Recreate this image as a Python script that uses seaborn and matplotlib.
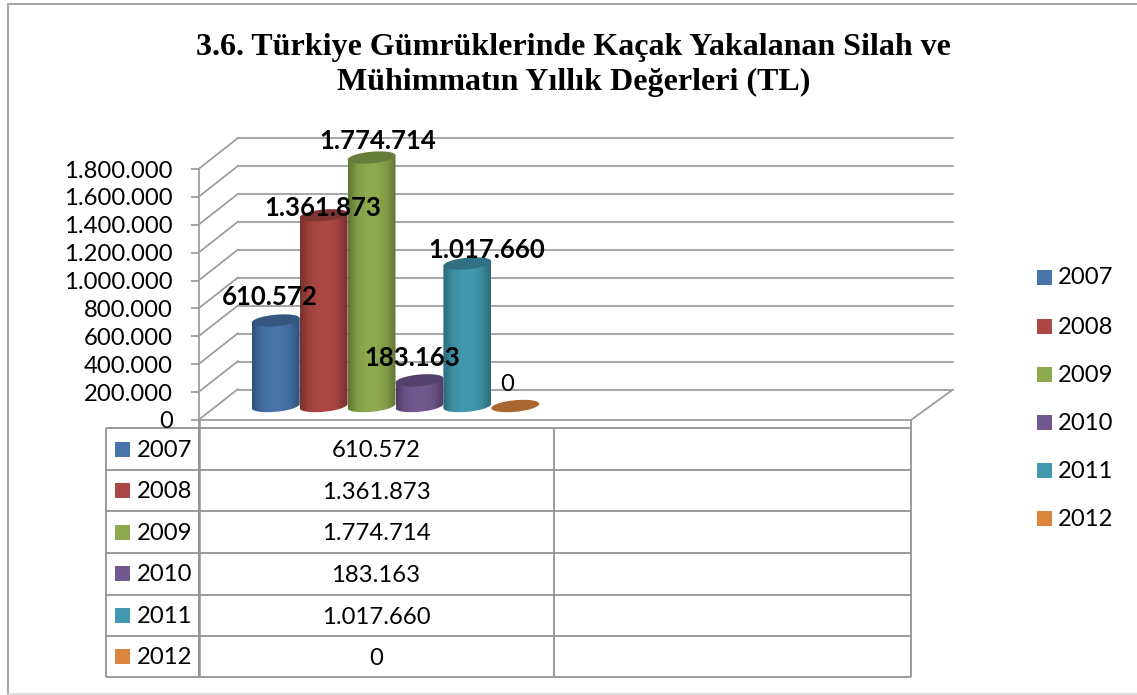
import numpy as np
import pandas as pd
import matplotlib
matplotlib.use('Agg')
import matplotlib.pyplot as plt
from matplotlib.colors import LinearSegmentedColormap, to_rgb
from matplotlib.patches import Polygon, Rectangle
from matplotlib.ticker import FuncFormatter
import seaborn as sns

# chart data
years = ['2007', '2008', '2009', '2010', '2011', '2012']
values = [610572, 1361873, 1774714, 183163, 1017660, 0]
colors = ['#4674AB', '#AB4744', '#8CA94D', '#72588F', '#4198AF', '#DB843D']
categories = ['1', '2']
y_ticks = [0, 200000, 400000, 600000, 800000, 1000000, 1200000, 1400000, 1600000, 1800000]
title = '3.6. Türkiye Gümrüklerinde Kaçak Yakalanan Silah ve\nMühimmatın Yıllık Değerleri (TL)'

# label offsets from the bar top, in pixels
label_dx = [-6, -1, 6, -7, 19, -8]
label_dy = [23.5, 7, 16.5, 22, 14, 22]

W, H = 1137, 695
GRID = '#9E9E9E'
LINE = '#939393'
FS = 17.2


def dots(v):
    return f'{int(v):,}'.replace(',', '.')


def px_axes(fig, x0, y_top, x1, y_bottom, **kw):
    # axes placed with pixel box measured from the top left corner
    return fig.add_axes([x0 / W, 1 - y_bottom / H, (x1 - x0) / W, (y_bottom - y_top) / H], **kw)


sns.set_theme(style='white')
plt.rcParams['font.family'] = ['Lato', 'DejaVu Sans']
fig = plt.figure(figsize=(W / 100, H / 100), dpi=100, facecolor='white')

# overlay in pixels for frame, floor, side wall and table lines
bg = px_axes(fig, 0, 0, W, H)
bg.set_xlim(0, W)
bg.set_ylim(H, 0)
bg.axis('off')

bg.plot([W, 8, 8], [3.5, 3.5, H], color='#A8A8A8', lw=1.5, solid_capstyle='butt')
bg.plot([8, W], [694, 694], color='#D8D8D8', lw=1.2)

# back wall gridlines
wall = px_axes(fig, 238, 138, 953, 389.5)
wall.set_ylim(0, 1800000)
wall.set_yticks(y_ticks)
wall.set_xticks([])
wall.grid(axis='y', color=GRID, lw=1.3)
for g in wall.get_ygridlines():
    g.set_clip_on(False)
wall.patch.set_alpha(0)
sns.despine(ax=wall, left=True, bottom=True, right=True, top=True)
wall.tick_params(left=False, labelleft=False)

# value axis at the front of the floor, with depth lines to the wall
front = px_axes(fig, 198.5, 169, 911, 420)
front.set_ylim(0, 1800000)
front.set_yticks(y_ticks)
front.yaxis.set_major_formatter(FuncFormatter(lambda v, p: dots(v)))
front.set_xticks([])
front.patch.set_alpha(0)
sns.despine(ax=front, left=False, bottom=False, right=True, top=True)
for s in ['left', 'bottom']:
    front.spines[s].set_color(GRID)
    front.spines[s].set_linewidth(1.3)
front.tick_params(axis='y', left=True, length=6, width=1.3, color=GRID, labelsize=FS, pad=12.5, labelcolor='black')

for v in y_ticks:
    y = 420 - v / 1800000 * 251
    bg.plot([198.5, 238], [y, y - 31], color=GRID, lw=1.3)
bg.plot([911, 953], [420, 389.5], color=GRID, lw=1.3)

# bars sit half way into the depth
ax = px_axes(fig, 217, 154, 931, 406)
df = pd.DataFrame({'cat': categories[0], 'year': years, 'value': values})
sns.barplot(data=df, x='cat', y='value', hue='year', hue_order=years, order=categories,
            palette=colors, width=0.805, legend=False, ax=ax, saturation=1, errorbar=None)
ax.set_xlim(-0.5, 1.5)
ax.set_ylim(0, 1800000)
ax.axis('off')
ax.patch.set_alpha(0)

px_x = 2 / 714
px_y = 1800000 / 252
t = np.linspace(0, 2 * np.pi, 80)
bars = [p for p in ax.patches if p.get_width() > 0][:len(values)]
for bar, col, val in zip(bars, colors, values):
    x0, w = bar.get_x(), bar.get_width()
    cx = x0 + w / 2
    top = bar.get_height()
    rgb = np.array(to_rgb(col))
    dark = rgb * 0.7
    top_col = rgb * 0.74
    tilt = 0.09 * (w / px_x) / 2 * px_y
    hh = 5.8 * px_y
    ex = cx + w / 2 * np.cos(t)
    ey = hh * np.sin(t) + tilt * np.cos(t)
    bar.set_visible(False)
    if val == 0:
        ax.add_patch(Polygon(np.c_[ex, ey], closed=True, fc=rgb * 0.77, ec='none', zorder=4, clip_on=False))
        continue
    # body outline: straight sides, rounded bottom edge
    lower = t[:40] + np.pi
    outline = np.r_[np.c_[cx + w / 2 * np.cos(lower), hh * np.sin(lower) + tilt * np.cos(lower)],
                    [[x0 + w, top + tilt]], [[x0, top - tilt]]]
    body = Polygon(outline, closed=True, transform=ax.transData, fc='none', ec='none')
    ax.add_patch(body)
    body.set_clip_on(False)
    cmap = LinearSegmentedColormap.from_list('c', [dark, rgb * 0.94, rgb, rgb, rgb * 0.92, dark])
    im = ax.imshow(np.linspace(0, 1, 64)[None, :], cmap=cmap, aspect='auto', zorder=3,
                   extent=[x0, x0 + w, -hh * 1.5, top + hh * 1.5])
    im.set_clip_box(fig.bbox)
    im.set_clip_path(body)
    ax.add_patch(Polygon(np.c_[ex, top + ey], closed=True, fc=top_col, ec='none', zorder=4, clip_on=False))
    ax.set_xlim(-0.5, 1.5)
    ax.set_ylim(0, 1800000)

# data labels
for bar, val, dx, dy in zip(bars, values, label_dx, label_dy):
    cx = bar.get_x() + bar.get_width() / 2
    weight = 'normal' if val == 0 else 'bold'
    size = FS if val == 0 else 18.5
    ax.annotate(dots(val), (cx, val), xytext=(dx, dy), textcoords='offset pixels', ha='center', va='center',
                fontsize=size, fontweight=weight, color='black', zorder=6, annotation_clip=False)

# title
fig.text(573.5 / W, 1 - 65 / H, title, ha='center', va='center', fontsize=23, fontweight='bold',
         family='Liberation Serif', linespacing=1.28, color='black')

# right legend
legend_y = [277, 326, 374, 422, 470, 518]
for yr, col, y in zip(years, colors, legend_y):
    bg.add_patch(Rectangle((1037, y - 7.5), 15, 15, fc=col, ec='none'))
    bg.text(1058, y + 1, yr, va='center', ha='left', fontsize=FS, color='black')

# data table under the chart
row_y = [428.3, 469.8, 511.3, 553, 594.7, 636.3, 677.3]
col_x = [106, 198.5, 554, 911]
for y in row_y:
    bg.plot([col_x[0], col_x[-1]], [y, y], color=LINE, lw=1.3, solid_capstyle='butt')
for x in col_x:
    bg.plot([x, x], [row_y[0], row_y[-1]], color=LINE, lw=1.3, solid_capstyle='butt')
bg.plot([198.5, 198.5], [420, row_y[-1]], color=LINE, lw=1.8, solid_capstyle='butt')
bg.plot([911, 911], [420, 428.3], color=LINE, lw=1.3, solid_capstyle='butt')
for i, (yr, col, val) in enumerate(zip(years, colors, values)):
    yc = (row_y[i] + row_y[i + 1]) / 2
    bg.add_patch(Rectangle((115, yc - 7.5), 15, 15, fc=col, ec='none'))
    bg.text(137, yc + 1, yr, va='center', ha='left', fontsize=FS, color='black')
    bg.text(376, yc + 1.5, dots(val), va='center', ha='center', fontsize=FS, color='black')

fig.savefig('out.png', dpi=100)
